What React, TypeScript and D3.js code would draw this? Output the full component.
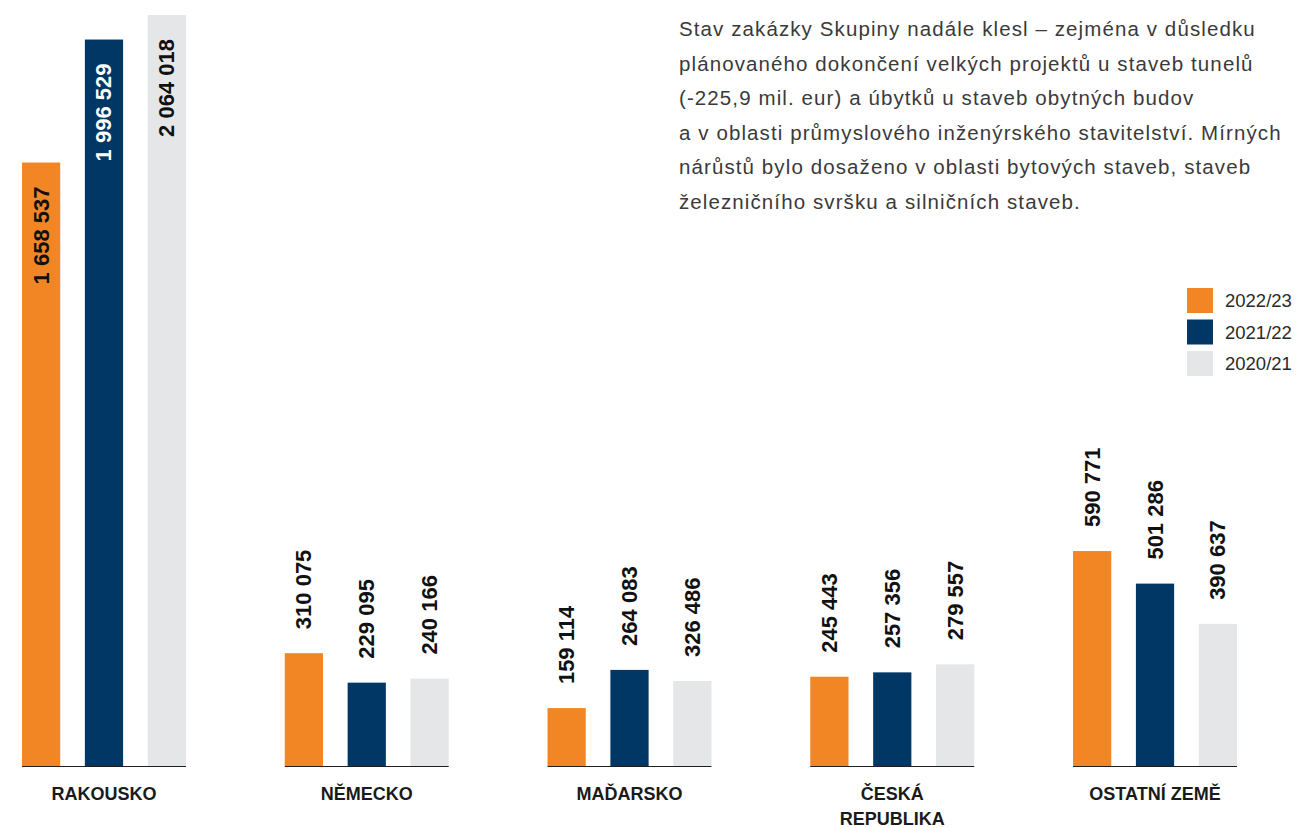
import React from "react";
import * as d3 from "d3";

const categories = ["RAKOUSKO", "NĚMECKO", "MAĎARSKO", "ČESKÁ REPUBLIKA", "OSTATNÍ ZEMĚ"];
const categoryLines = [["RAKOUSKO"], ["NĚMECKO"], ["MAĎARSKO"], ["ČESKÁ", "REPUBLIKA"], ["OSTATNÍ ZEMĚ"]];
const seriesNames = ["2022/23", "2021/22", "2020/21"];
// value labels as printed
const labels2223 = ["1 658 537", "310 075", "159 114", "245 443", "590 771"];
const labels2122 = ["1 996 529", "229 095", "264 083", "257 356", "501 286"];
const labels2021 = ["2 064 018", "240 166", "326 486", "279 557", "390 637"];
// bar heights as drawn in the picture
const values2223 = [1658537, 310075, 159114, 245443, 590771];
const values2122 = [1996529, 229095, 264083, 257356, 501286];
const values2021 = [2064018, 240166, 233600, 279557, 390637];
const seriesValues = [values2223, values2122, values2021];
const seriesLabels = [labels2223, labels2122, labels2021];
const colors = ["#F28524", "#003764", "#E5E6E8"];
const labelColorsInside = ["#111111", "#FFFFFF", "#111111"];
const paragraph = [
  "Stav zakázky Skupiny nadále klesl – zejména v důsledku",
  "plánovaného dokončení velkých projektů u staveb tunelů",
  "(-225,9 mil. eur) a úbytků u staveb obytných budov",
  "a v oblasti průmyslového inženýrského stavitelství. Mírných",
  "nárůstů bylo dosaženo v oblasti bytových staveb, staveb",
  "železničního svršku a silničních staveb.",
];

export default function App() {
  const W = 1297;
  const H = 828;
  const baseY = 766;
  const font = "'Liberation Sans', Arial, Helvetica, sans-serif";
  const x0 = d3.scaleBand<string>().domain(categories).range([22, 1237]).paddingInner(0.376).paddingOuter(0);
  const x1 = d3.scaleBand<string>().domain(seriesNames).range([0, x0.bandwidth()]).paddingInner(0.392).paddingOuter(0);
  const maxV = d3.max(values2021.concat(values2122, values2223)) as number;
  const y = d3.scaleLinear().domain([0, maxV]).range([baseY, 15]);
  const insideThreshold = 1000000;

  return (
    <svg width={W} height={H} style={{ position: "absolute", left: 0, top: 0, background: "#fff" }} fontFamily={font}>
      {categories.map((c, ci) => {
        const gx = x0(c) as number;
        return (
          <g key={c} transform={`translate(${gx},0)`}>
            {seriesNames.map((s, si) => {
              const v = seriesValues[si][ci];
              const bx = x1(s) as number;
              const bw = x1.bandwidth();
              const top = y(v);
              const cx = bx + bw / 2;
              const inside = v > insideThreshold;
              const ly = inside ? top + 24 : top - 24;
              return (
                <g key={s}>
                  <rect x={bx} y={top} width={bw} height={baseY - top} fill={colors[si]} />
                  <text
                    transform={`translate(${cx},${ly}) rotate(-90)`}
                    textAnchor={inside ? "end" : "start"}
                    dominantBaseline="central"
                    fontSize={22}
                    fontWeight="bold"
                    fill={inside ? labelColorsInside[si] : "#111111"}
                  >
                    {seriesLabels[si][ci]}
                  </text>
                </g>
              );
            })}
            <line x1={0} x2={x0.bandwidth()} y1={baseY + 0.5} y2={baseY + 0.5} stroke="#231F20" strokeWidth={1.2} />
            {categoryLines[ci].map((ln, li) => (
              <text
                key={ln}
                x={x0.bandwidth() / 2}
                y={800 + li * 25}
                textAnchor="middle"
                fontSize={18}
                fontWeight="bold"
                fill="#1a1a1a"
              >
                {ln}
              </text>
            ))}
          </g>
        );
      })}
      <g>
        {paragraph.map((ln, i) => (
          <text key={i} x={679} y={36 + i * 34.6} fontSize={20.5} letterSpacing={1.1} fill="#3a3a3a">
            {ln}
          </text>
        ))}
      </g>
      <g>
        {seriesNames.map((s, i) => (
          <g key={s} transform={`translate(1187,${288 + i * 31.5})`}>
            <rect x={0} y={0} width={26} height={25} fill={colors[i]} />
            <text x={38} y={19} fontSize={18.5} fill="#2a2a2a">
              {s}
            </text>
          </g>
        ))}
      </g>
    </svg>
  );
}
